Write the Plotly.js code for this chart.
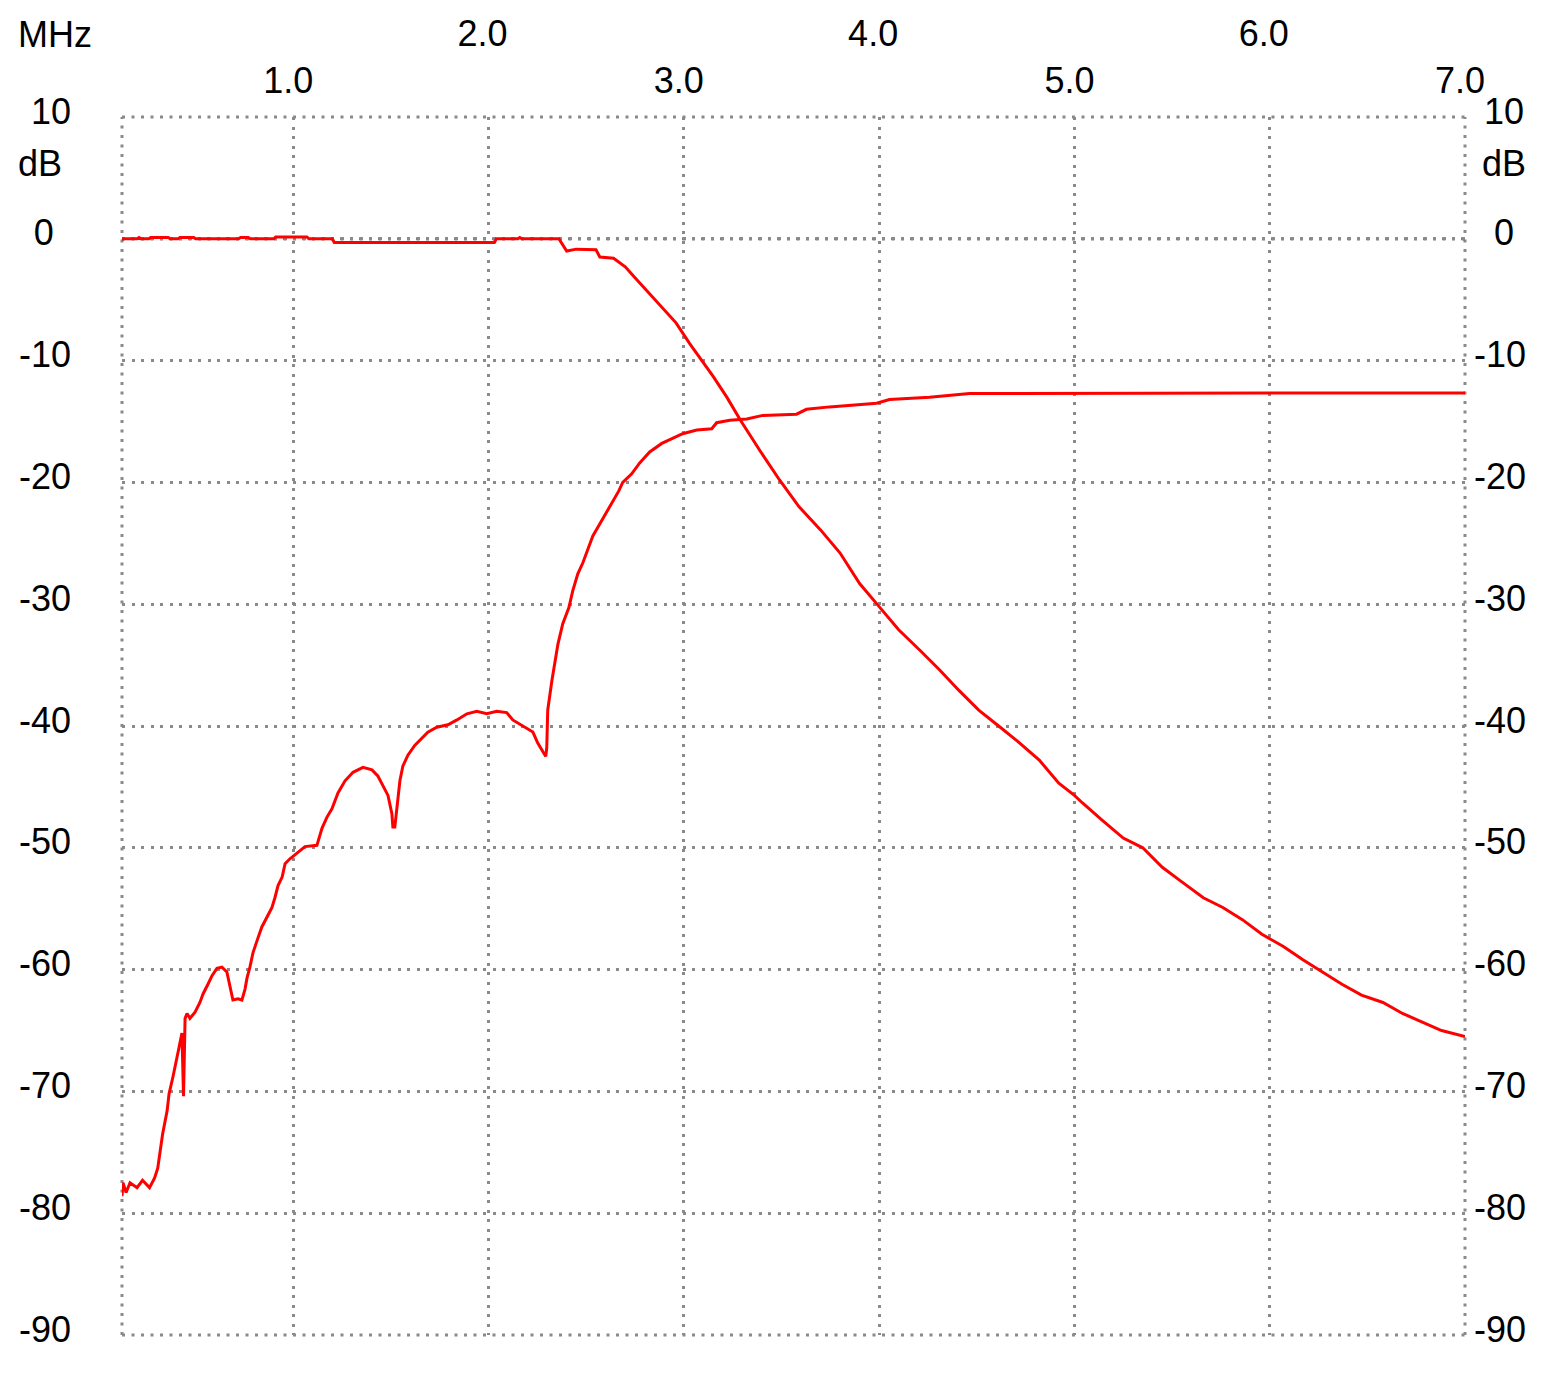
<!DOCTYPE html>
<html>
<head>
<meta charset="utf-8">
<script src="https://cdn.plot.ly/plotly-3.0.1.min.js"></script>
<style>
  html, body { margin: 0; padding: 0; background: #ffffff; }
  #chart { width: 1559px; height: 1376px; }
</style>
</head>
<body>
<div id="chart"></div>
<script>
// ---- Data (frequency in MHz, level in dB) ----
const freqLowpass = [0.123, 0.20, 0.21, 0.22, 0.26, 0.27, 0.36, 0.37, 0.41, 0.42, 0.49, 0.50, 0.72, 0.73, 0.77, 0.78,
  0.90, 0.91, 1.07, 1.08, 1.20, 1.21, 2.03, 2.04, 2.15, 2.16, 2.17, 2.36, 2.40, 2.45, 2.55, 2.57, 2.64, 2.70, 2.75,
  2.83, 2.89, 2.96, 3.03, 3.08, 3.15, 3.22, 3.29, 3.39, 3.49, 3.59, 3.70, 3.80, 3.90, 4.00, 4.10, 4.21, 4.31, 4.41,
  4.51, 4.62, 4.72, 4.82, 4.92, 5.00, 5.04, 5.14, 5.25, 5.35, 5.45, 5.55, 5.66, 5.76, 5.86, 5.96, 6.07, 6.17, 6.27,
  6.37, 6.47, 6.58, 6.68, 6.78, 6.88, 7.00];
const levelLowpass = [0, 0, 0.1, 0, 0, 0.1, 0.1, 0, 0, 0.1, 0.1, 0, 0, 0.1, 0.1, 0,
  0, 0.15, 0.15, 0, 0, -0.3, -0.3, 0, 0, 0.1, 0, 0, -1.0, -0.85, -0.9, -1.5, -1.6, -2.3, -3.2,
  -4.6, -5.6, -6.9, -8.6, -9.7, -11.3, -13.0, -14.9, -17.4, -19.8, -22.0, -23.9, -25.8, -28.3, -30.2, -32.1, -33.8, -35.4, -37.1,
  -38.7, -40.1, -41.4, -42.8, -44.7, -45.7, -46.3, -47.7, -49.2, -50.0, -51.6, -52.8, -54.1, -54.9, -55.9, -57.1, -58.1, -59.2, -60.2,
  -61.2, -62.1, -62.7, -63.6, -64.3, -65.0, -65.5];

const freqReturn = [0.123, 0.128, 0.144, 0.164, 0.200, 0.228, 0.264, 0.290, 0.306, 0.321, 0.331, 0.354, 0.364, 0.384,
  0.400, 0.415, 0.430, 0.438, 0.446, 0.456, 0.471, 0.497, 0.522, 0.538, 0.563, 0.584, 0.609, 0.635, 0.660, 0.676,
  0.691, 0.717, 0.737, 0.753, 0.763, 0.778, 0.794, 0.815, 0.839, 0.865, 0.891, 0.906, 0.922, 0.943, 0.958, 0.983,
  1.019, 1.060, 1.121, 1.147, 1.172, 1.198, 1.229, 1.265, 1.306, 1.357, 1.403, 1.433, 1.459, 1.485, 1.505, 1.510,
  1.520, 1.530, 1.546, 1.561, 1.587, 1.622, 1.658, 1.689, 1.735, 1.792, 1.838, 1.889, 1.940, 1.991, 2.042, 2.093,
  2.124, 2.175, 2.227, 2.252, 2.278, 2.293, 2.298, 2.303, 2.324, 2.339, 2.355, 2.380, 2.411, 2.431, 2.457, 2.483,
  2.508, 2.534, 2.559, 2.595, 2.631, 2.667, 2.687, 2.733, 2.774, 2.825, 2.887, 2.943, 2.994, 3.066, 3.143, 3.168,
  3.235, 3.322, 3.404, 3.577, 3.628, 3.746, 3.987, 4.053, 4.258, 4.463, 5.128, 7.000];
const levelReturn = [-78.6, -77.5, -78.3, -77.5, -77.9, -77.3, -77.9, -77.1, -76.3, -74.8, -73.5, -71.6, -70.2, -68.8,
  -67.4, -66.4, -65.2, -70.4, -64.0, -63.6, -64.0, -63.5, -62.7, -62.0, -61.2, -60.5, -59.9, -59.8, -60.2, -61.4,
  -62.5, -62.4, -62.5, -61.6, -60.7, -59.8, -58.6, -57.6, -56.5, -55.7, -54.9, -54.1, -53.1, -52.4, -51.3, -50.9,
  -50.4, -49.9, -49.8, -48.4, -47.5, -46.8, -45.5, -44.5, -43.8, -43.4, -43.6, -44.1, -44.9, -45.7, -47.2, -48.3,
  -48.3, -46.7, -44.5, -43.3, -42.4, -41.6, -41.0, -40.5, -40.1, -39.9, -39.5, -39.0, -38.8, -39.0, -38.8, -38.9,
  -39.5, -40.0, -40.5, -41.4, -42.1, -42.5, -41.8, -38.7, -36.3, -34.9, -33.3, -31.6, -30.3, -28.9, -27.5, -26.6,
  -25.6, -24.4, -23.7, -22.7, -21.8, -20.7, -20.0, -19.3, -18.4, -17.5, -16.8, -16.4, -16.0, -15.7, -15.6, -15.1,
  -14.9, -14.8, -14.5, -14.4, -14.0, -13.8, -13.5, -13.2, -13.0, -12.7, -12.7, -12.65];

// ---- Tick labels ----
const yTickValues = [10, 0, -10, -20, -30, -40, -50, -60, -70, -80, -90];
const yLabelsLeft = ['10', '0\u00a0\u2009', '-10', '-20', '-30', '-40', '-50', '-60', '-70', '-80', '-90'];
const yLabelsRight = ['\u00a010', '\u00a0\u00a00', '-10', '-20', '-30', '-40', '-50', '-60', '-70', '-80', '-90'];
const xTicksOdd = [1, 3, 5, 7];
const xLabelsOdd = ['1.0', '3.0', '5.0', '7.0'];
const xTicksEven = [2, 4, 6];
const xLabelsEven = ['2.0', '4.0', '6.0'];
const unitX = 'MHz';
const unitY = 'dB';
const xRange = [0.123, 7.0];
const yRange = [-90, 10];

const FONT = '"Liberation Sans", Arial, sans-serif';
const gridDash = '3px,6.5px';
const gridColor = '#8a8a8a';

const traces = [
  { x: freqLowpass, y: levelLowpass, type: 'scatter', mode: 'lines',
    line: { color: '#ff0000', width: 3 }, hoverinfo: 'skip', showlegend: false },
  { x: freqReturn, y: levelReturn, type: 'scatter', mode: 'lines',
    line: { color: '#ff0000', width: 3 }, hoverinfo: 'skip', showlegend: false },
  // empty trace so the overlaid label axes (x2 / y2) get drawn
  { x: [], y: [], xaxis: 'x2', yaxis: 'y2', type: 'scatter', mode: 'lines',
    hoverinfo: 'skip', showlegend: false }
];

const tickFont = { family: FONT, size: 36, color: '#000000' };

function border(x0, x1, y0, y1) {
  return { type: 'line', xref: 'paper', yref: 'paper', x0: x0, x1: x1, y0: y0, y1: y1, layer: 'below',
    line: { color: gridColor, width: 3, dash: gridDash } };
}

const layout = {
  width: 1559, height: 1376,
  margin: { l: 122, r: 94, t: 117, b: 41, pad: 0 },
  paper_bgcolor: '#ffffff', plot_bgcolor: '#ffffff',
  showlegend: false,
  xaxis: {
    range: xRange, side: 'top', tickmode: 'array', tickvals: xTicksOdd, ticktext: xLabelsOdd,
    ticks: '', ticklabelstandoff: 16, ticklabelshift: -5, tickfont: tickFont,
    showgrid: true, gridcolor: gridColor, gridwidth: 3, griddash: gridDash,
    zeroline: false, showline: false, fixedrange: true
  },
  xaxis2: {
    range: xRange, overlaying: 'x', anchor: 'y2', side: 'top', tickmode: 'array', tickvals: xTicksEven, ticktext: xLabelsEven,
    ticks: '', ticklabelstandoff: 63, ticklabelshift: -6, tickfont: tickFont,
    showgrid: true, gridcolor: gridColor, gridwidth: 3, griddash: gridDash,
    zeroline: false, showline: false, fixedrange: true
  },
  yaxis: {
    range: yRange, tickmode: 'array', tickvals: yTickValues, ticktext: yLabelsLeft,
    ticks: '', ticklabelstandoff: 50, ticklabelshift: -6, tickfont: tickFont,
    showgrid: true, gridcolor: gridColor, gridwidth: 3, griddash: gridDash,
    zeroline: false, showline: false, fixedrange: true
  },
  yaxis2: {
    range: yRange, overlaying: 'y', anchor: 'x2', side: 'right', tickmode: 'array', tickvals: yTickValues, ticktext: yLabelsRight,
    ticks: '', ticklabelstandoff: 8, ticklabelshift: -6, tickfont: tickFont,
    showgrid: false, zeroline: false, showline: false, fixedrange: true
  },
  shapes: [
    border(0, 0, 0, 1),
    border(1, 1, 0, 1),
    border(0, 1, 1, 1),
    border(0, 1, 0, 0),
    { type: 'line', xref: 'paper', yref: 'y', x0: 0, x1: 1, y0: 0, y1: 0, layer: 'below',
      line: { color: '#000000', width: 3, dash: gridDash } }
  ],
  annotations: [
    { text: unitX, xref: 'paper', yref: 'paper', x: -0.05, y: 1.068, xanchor: 'center', yanchor: 'middle',
      showarrow: false, font: tickFont },
    { text: unitY, xref: 'paper', yref: 'y', x: -0.061, y: 6.2, xanchor: 'center', yanchor: 'middle',
      showarrow: false, font: tickFont },
    { text: unitY, xref: 'paper', yref: 'y', x: 1.029, y: 6.2, xanchor: 'center', yanchor: 'middle',
      showarrow: false, font: tickFont }
  ]
};

Plotly.newPlot('chart', traces, layout, { staticPlot: true, displayModeBar: false });
</script>
</body>
</html>
